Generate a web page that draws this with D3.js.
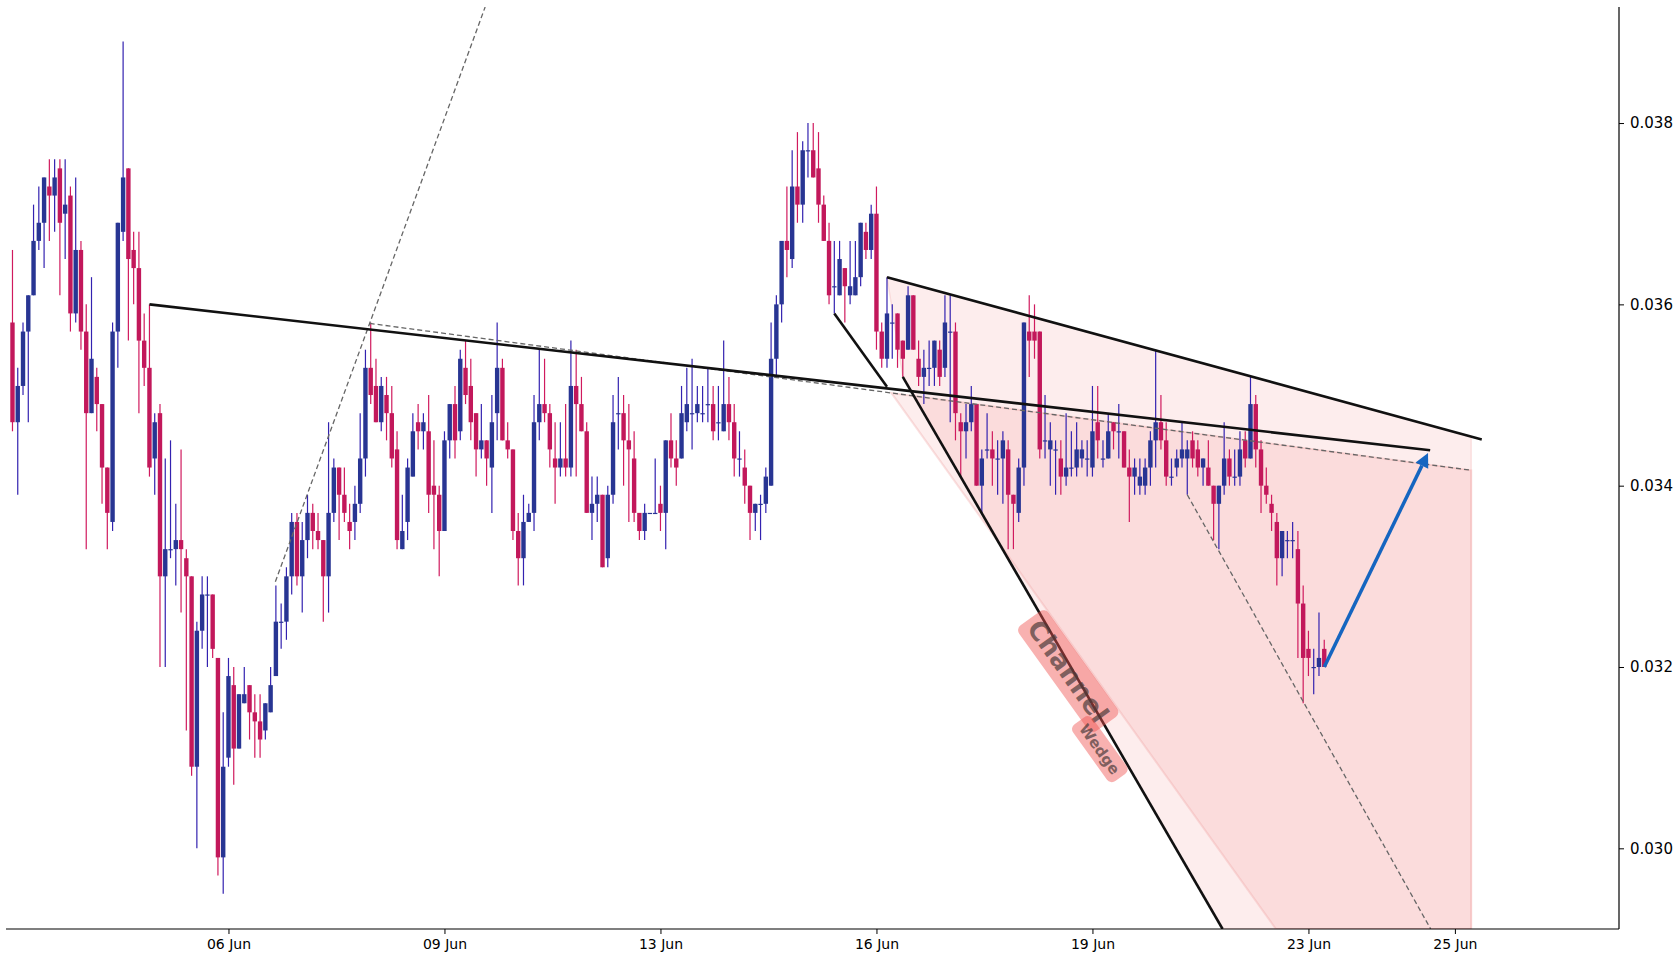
<!DOCTYPE html>
<html>
<head>
<meta charset="utf-8">
<script src="https://cdn.jsdelivr.net/npm/d3@7"></script>
<style>
  body { margin: 0; background: #fff; }
  svg text { font-family: "DejaVu Sans", sans-serif; }
</style>
</head>
<body>
<div id="chart"></div>
<script>
// 2h bars, [open, high, low, close]; x position = bar index
const candles = [
  [0.0358,0.0366,0.0346,0.0347],[0.0347,0.0353,0.0339,0.0351],[0.0351,0.0358,0.0350,0.0357],[0.0357,0.0361,0.0347,0.0361],
  [0.0361,0.0371,0.0361,0.0367],[0.0367,0.0373,0.0366,0.0369],[0.0369,0.0374,0.0364,0.0374],[0.0373,0.0376,0.0367,0.0372],
  [0.0372,0.0376,0.0368,0.0374],[0.0375,0.0376,0.0361,0.0369],[0.0370,0.0376,0.0365,0.0371],[0.0372,0.0373,0.0357,0.0359],
  [0.0359,0.0374,0.0358,0.0366],[0.0366,0.0367,0.0355,0.0357],[0.0357,0.0360,0.0333,0.0348],[0.0348,0.0363,0.0348,0.0354],
  [0.0352,0.0353,0.0346,0.0349],[0.0349,0.0349,0.0338,0.0342],[0.0342,0.0342,0.0333,0.0337],[0.0336,0.0358,0.0335,0.0357],
  [0.0357,0.0369,0.0353,0.0369],[0.0368,0.0389,0.0367,0.0374],[0.0375,0.0375,0.0356,0.0365],[0.0366,0.0368,0.0360,0.0364],
  [0.0364,0.0368,0.0348,0.0356],[0.0356,0.0359,0.0351,0.0353],[0.0353,0.0360,0.0341,0.0342],[0.0343,0.0348,0.0339,0.0347],
  [0.0348,0.0349,0.0320,0.0330],[0.0330,0.0343,0.0320,0.0333],[0.0333,0.0345,0.0332,0.0333],[0.0333,0.0338,0.0329,0.0334],
  [0.0334,0.0344,0.0326,0.0333],[0.0332,0.0333,0.0313,0.0330],[0.0330,0.0330,0.0308,0.0309],[0.0309,0.0325,0.0300,0.0324],
  [0.0324,0.0330,0.0322,0.0328],[0.0328,0.0330,0.0320,0.0328],[0.0328,0.0328,0.0321,0.0322],[0.0321,0.0321,0.0297,0.0299],
  [0.0299,0.0315,0.0295,0.0309],[0.0310,0.0321,0.0309,0.0319],[0.0318,0.0320,0.0307,0.0311],[0.0311,0.0317,0.0311,0.0317],
  [0.0316,0.0320,0.0316,0.0317],[0.0318,0.0318,0.0312,0.0315],[0.0315,0.0317,0.0310,0.0314],[0.0314,0.0317,0.0310,0.0312],
  [0.0313,0.0316,0.0312,0.0316],[0.0315,0.0320,0.0315,0.0318],[0.0319,0.0329,0.0319,0.0325],[0.0325,0.0327,0.0322,0.0325],
  [0.0325,0.0331,0.0323,0.0330],[0.0330,0.0337,0.0328,0.0336],[0.0336,0.0337,0.0329,0.0330],[0.0330,0.0336,0.0326,0.0334],
  [0.0334,0.0339,0.0332,0.0337],[0.0337,0.0338,0.0333,0.0335],[0.0335,0.0337,0.0333,0.0334],[0.0334,0.0334,0.0325,0.0330],
  [0.0330,0.0347,0.0326,0.0337],[0.0337,0.0343,0.0336,0.0342],[0.0342,0.0342,0.0334,0.0339],[0.0339,0.0342,0.0336,0.0337],
  [0.0336,0.0338,0.0333,0.0335],[0.0336,0.0340,0.0334,0.0338],[0.0338,0.0348,0.0337,0.0343],[0.0343,0.0355,0.0341,0.0353],
  [0.0353,0.0358,0.0349,0.0350],[0.0351,0.0354,0.0347,0.0347],[0.0347,0.0352,0.0346,0.0351],[0.0350,0.0352,0.0345,0.0348],
  [0.0348,0.0351,0.0342,0.0343],[0.0344,0.0346,0.0333,0.0334],[0.0333,0.0339,0.0333,0.0335],[0.0336,0.0343,0.0334,0.0342],
  [0.0341,0.0348,0.0341,0.0346],[0.0347,0.0349,0.0344,0.0346],[0.0346,0.0348,0.0344,0.0347],[0.0346,0.0350,0.0337,0.0339],
  [0.0340,0.0345,0.0333,0.0339],[0.0339,0.0340,0.0330,0.0335],[0.0335,0.0346,0.0335,0.0345],[0.0345,0.0349,0.0343,0.0349],
  [0.0349,0.0351,0.0343,0.0345],[0.0346,0.0355,0.0345,0.0354],[0.0353,0.0356,0.0349,0.0350],[0.0351,0.0354,0.0345,0.0347],
  [0.0348,0.0348,0.0341,0.0344],[0.0344,0.0349,0.0343,0.0345],[0.0345,0.0345,0.0340,0.0343],[0.0342,0.0350,0.0337,0.0347],
  [0.0348,0.0358,0.0345,0.0353],[0.0353,0.0354,0.0345,0.0345],[0.0345,0.0347,0.0343,0.0344],[0.0344,0.0344,0.0334,0.0335],
  [0.0335,0.0337,0.0329,0.0332],[0.0332,0.0339,0.0329,0.0336],[0.0336,0.0338,0.0336,0.0337],[0.0337,0.0350,0.0335,0.0347],
  [0.0347,0.0355,0.0345,0.0349],[0.0349,0.0354,0.0347,0.0348],[0.0348,0.0349,0.0342,0.0344],[0.0343,0.0347,0.0338,0.0342],
  [0.0342,0.0347,0.0341,0.0343],[0.0343,0.0349,0.0341,0.0342],[0.0342,0.0356,0.0341,0.0351],[0.0351,0.0355,0.0341,0.0349],
  [0.0349,0.0352,0.0346,0.0346],[0.0346,0.0347,0.0337,0.0337],[0.0337,0.0341,0.0334,0.0338],[0.0338,0.0341,0.0336,0.0339],
  [0.0339,0.0339,0.0331,0.0331],[0.0332,0.0340,0.0331,0.0339],[0.0339,0.0350,0.0338,0.0347],[0.0348,0.0352,0.0344,0.0348],
  [0.0348,0.0350,0.0340,0.0345],[0.0345,0.0349,0.0336,0.0344],[0.0343,0.0346,0.0336,0.0337],[0.0337,0.0337,0.0334,0.0335],
  [0.0335,0.0338,0.0334,0.0337],[0.0337,0.0337,0.0337,0.0337],[0.0337,0.0343,0.0337,0.0337],[0.0338,0.0340,0.0335,0.0337],
  [0.0337,0.0345,0.0333,0.0345],[0.0345,0.0348,0.0342,0.0343],[0.0343,0.0345,0.0340,0.0342],[0.0343,0.0351,0.0343,0.0348],
  [0.0347,0.0353,0.0346,0.0349],[0.0348,0.0354,0.0344,0.0348],[0.0348,0.0351,0.0347,0.0349],[0.0348,0.0351,0.0347,0.0348],
  [0.0349,0.0353,0.0347,0.0349],[0.0349,0.0351,0.0345,0.0346],[0.0347,0.0351,0.0345,0.0347],[0.0346,0.0356,0.0346,0.0349],
  [0.0349,0.0352,0.0345,0.0347],[0.0347,0.0349,0.0341,0.0343],[0.0343,0.0346,0.0341,0.0343],[0.0342,0.0344,0.0338,0.0340],
  [0.0340,0.0340,0.0334,0.0337],[0.0337,0.0338,0.0335,0.0338],[0.0338,0.0339,0.0334,0.0338],[0.0338,0.0342,0.0337,0.0341],
  [0.0340,0.0358,0.0340,0.0354],[0.0354,0.0361,0.0352,0.0360],[0.0360,0.0367,0.0358,0.0367],[0.0367,0.0373,0.0363,0.0366],
  [0.0365,0.0377,0.0364,0.0373],[0.0373,0.0379,0.0369,0.0371],[0.0371,0.0378,0.0369,0.0377],[0.0377,0.0380,0.0374,0.0377],
  [0.0377,0.0380,0.0374,0.0374],[0.0375,0.0379,0.0369,0.0371],[0.0371,0.0372,0.0367,0.0367],[0.0367,0.0369,0.0360,0.0361],
  [0.0362,0.0367,0.0359,0.0362],[0.0361,0.0367,0.0361,0.0365],[0.0364,0.0364,0.0358,0.0362],[0.0361,0.0367,0.0360,0.0362],
  [0.0361,0.0367,0.0361,0.0363],[0.0363,0.0369,0.0362,0.0369],[0.0368,0.0369,0.0365,0.0366],[0.0366,0.0371,0.0365,0.0370],
  [0.0370,0.0373,0.0355,0.0357],[0.0357,0.0358,0.0353,0.0354],[0.0354,0.0363,0.0353,0.0359],[0.0358,0.0360,0.0354,0.0358],
  [0.0359,0.0359,0.0353,0.0355],[0.0356,0.0356,0.0352,0.0354],[0.0355,0.0362,0.0355,0.0361],[0.0361,0.0361,0.0355,0.0355],
  [0.0354,0.0356,0.0351,0.0352],[0.0352,0.0355,0.0349,0.0353],[0.0353,0.0356,0.0351,0.0353],[0.0353,0.0356,0.0351,0.0356],
  [0.0355,0.0356,0.0351,0.0352],[0.0353,0.0361,0.0352,0.0358],[0.0357,0.0361,0.0347,0.0357],[0.0357,0.0358,0.0345,0.0348],
  [0.0347,0.0348,0.0341,0.0346],[0.0346,0.0349,0.0343,0.0347],[0.0347,0.0351,0.0346,0.0349],[0.0349,0.0349,0.0340,0.0340],
  [0.0340,0.0344,0.0337,0.0343],[0.0344,0.0348,0.0343,0.0344],[0.0344,0.0346,0.0340,0.0343],[0.0343,0.0345,0.0339,0.0343],
  [0.0343,0.0346,0.0338,0.0345],[0.0344,0.0345,0.0333,0.0339],[0.0339,0.0339,0.0333,0.0338],[0.0337,0.0343,0.0336,0.0342],
  [0.0342,0.0358,0.0340,0.0358],[0.0357,0.0361,0.0352,0.0356],[0.0357,0.0360,0.0354,0.0356],[0.0357,0.0357,0.0343,0.0344],
  [0.0345,0.0350,0.0343,0.0345],[0.0344,0.0347,0.0340,0.0345],[0.0344,0.0345,0.0339,0.0344],[0.0343,0.0345,0.0339,0.0341],
  [0.0341,0.0348,0.0340,0.0342],[0.0342,0.0346,0.0341,0.0342],[0.0342,0.0347,0.0341,0.0344],[0.0343,0.0345,0.0342,0.0344],
  [0.0343,0.0345,0.0341,0.0343],[0.0342,0.0351,0.0341,0.0346],[0.0347,0.0351,0.0343,0.0345],[0.0343,0.0345,0.0342,0.0343],
  [0.0343,0.0348,0.0343,0.0346],[0.0347,0.0347,0.0344,0.0346],[0.0346,0.0349,0.0343,0.0346],[0.0346,0.0346,0.0342,0.0342],
  [0.0342,0.0344,0.0336,0.0341],[0.0341,0.0343,0.0339,0.0342],[0.0340,0.0343,0.0339,0.0341],[0.0340,0.0343,0.0339,0.0342],
  [0.0342,0.0346,0.0340,0.0345],[0.0345,0.0355,0.0342,0.0347],[0.0347,0.0350,0.0344,0.0345],[0.0345,0.0347,0.0340,0.0341],
  [0.0341,0.0343,0.0340,0.0341],[0.0342,0.0344,0.0341,0.0343],[0.0343,0.0347,0.0342,0.0344],[0.0343,0.0345,0.0339,0.0344],
  [0.0345,0.0346,0.0342,0.0343],[0.0344,0.0345,0.0341,0.0342],[0.0342,0.0343,0.0340,0.0343],[0.0342,0.0345,0.0340,0.0340],
  [0.0340,0.0340,0.0334,0.0338],[0.0338,0.0340,0.0333,0.0340],[0.0340,0.0347,0.0339,0.0343],[0.0343,0.0344,0.0340,0.0341],
  [0.0341,0.0344,0.0340,0.0341],[0.0341,0.0346,0.0340,0.0344],[0.0345,0.0346,0.0342,0.0343],[0.0343,0.0352,0.0343,0.0349],
  [0.0349,0.0350,0.0342,0.0344],[0.0344,0.0345,0.0337,0.0340],[0.0340,0.0342,0.0338,0.0339],[0.0338,0.0339,0.0335,0.0337],
  [0.0336,0.0337,0.0329,0.0332],[0.0332,0.0335,0.0330,0.0335],[0.0334,0.0335,0.0332,0.0334],[0.0334,0.0336,0.0332,0.0334],
  [0.0333,0.0335,0.0321,0.0327],[0.0327,0.0329,0.0316,0.0321],[0.0322,0.0324,0.0319,0.0321],[0.0320,0.0322,0.0317,0.0320],
  [0.0320,0.0326,0.0319,0.0321],[0.0322,0.0323,0.0320,0.0320]
]

const tickIdx = [41, 82, 123, 164, 205, 246, 273.8]
const tickLabels = ["06 Jun", "09 Jun", "13 Jun", "16 Jun", "19 Jun", "23 Jun", "25 Jun"]
const priceTicks = [0.030, 0.032, 0.034, 0.036, 0.038]

// drawing anchors: [bar index, price]
const trendSolid = [[26, 0.0360], [269.1, 0.03439]]
const trendDashed = [[67.8, 0.03579], [276.9, 0.03417]]
const rayDashed = [[49.9, 0.03294], [67.8, 0.03579]]
const wedgeTop = [[166, 0.0363], [278.9, 0.03451]]
const wedgeInner = [[156, 0.0359], [166, 0.03509]]
const wedgeOuter = [[169, 0.0352], [229.7, 0.02911]]
const channelDashed = [[223, 0.0339], [269.2, 0.02911]]
const arrowPts = [[249, 0.0320], [268.7, 0.03436]]
const zoneEnd = 276.9
const labelChannel = [200.4, 0.031955]
const labelWedge = [206.4, 0.031094]

let W = 1680, H = 960
let pLeft = 6, pRight = 1619, pTop = 7, pBottom = 929

let svg = d3.select("#chart").append("svg")
    .attr("width", W)
    .attr("height", H)

let x = d3.scaleLinear().domain([-1.23, 304.95]).range([pLeft, pRight])
let y = d3.scaleLinear().domain([0.02911, 0.03928]).range([pBottom, pTop])
let yMin = y.domain()[0], yMax = y.domain()[1]

svg.append("clipPath").attr("id", "plot")
    .append("rect")
    .attr("x", pLeft).attr("y", pTop)
    .attr("width", pRight - pLeft).attr("height", pBottom - pTop)

// helpers for the drawing tools
function valAt(l, i) {
    return l[0][1] + (i - l[0][0]) * (l[1][1] - l[0][1]) / (l[1][0] - l[0][0])
}
function idxAt(l, v) {
    return l[0][0] + (v - l[0][1]) * (l[1][0] - l[0][0]) / (l[1][1] - l[0][1])
}
function cross(a, b) {
    let sa = (a[1][1] - a[0][1]) / (a[1][0] - a[0][0])
    let sb = (b[1][1] - b[0][1]) / (b[1][0] - b[0][0])
    let i = (b[0][1] - a[0][1] + sa * a[0][0] - sb * b[0][0]) / (sa - sb)
    return [i, valAt(a, i)]
}

let line = d3.line().x(d => x(d[0])).y(d => y(d[1]))
let g = svg.append("g").attr("clip-path", "url(#plot)")

// zones
let lightZone = [wedgeTop[0], [zoneEnd, valAt(wedgeTop, zoneEnd)], [zoneEnd, yMin],
    [idxAt(wedgeOuter, yMin), yMin], wedgeOuter[0]]
let darkZone = [cross(wedgeInner, trendDashed), [zoneEnd, valAt(trendDashed, zoneEnd)], [zoneEnd, yMin],
    [idxAt(wedgeInner, yMin), yMin]]

g.append("path").datum(lightZone)
    .attr("d", d => line(d) + "Z")
    .attr("fill", "#ef5350").attr("fill-opacity", 0.1)
    .attr("stroke", "#ef9a9a").attr("stroke-opacity", 0.25).attr("stroke-width", 1.5)
g.append("path").datum(darkZone)
    .attr("d", d => line(d) + "Z")
    .attr("fill", "#ef5350").attr("fill-opacity", 0.1)
    .attr("stroke", "#ef9a9a").attr("stroke-opacity", 0.3).attr("stroke-width", 2)

// candles
let bars = g.append("g").selectAll("g")
    .data(candles)
    .enter()
    .append("g")

bars.append("line")
    .attr("x1", (d, i) => x(i)).attr("x2", (d, i) => x(i))
    .attr("y1", d => y(d[1])).attr("y2", d => y(d[2]))
    .attr("stroke", d => d[3] >= d[0] ? "#3322b0" : "#d01a5e")
    .attr("stroke-width", 1.2)

bars.append("rect")
    .attr("x", (d, i) => x(i) - 2.2)
    .attr("width", 4.4)
    .attr("y", d => y(Math.max(d[0], d[3])))
    .attr("height", d => Math.max(1.2, Math.abs(y(d[0]) - y(d[3]))))
    .attr("fill", d => d[3] >= d[0] ? "#283593" : "#c2185b")

// trend lines
let dashed = { "stroke": "#666", "stroke-width": 1.3, "stroke-dasharray": "5,3", "fill": "none" }
let solid = { "stroke": "#111", "stroke-width": 2.6, "fill": "none" }
function drawLine(pts, style) {
    let p = g.append("path").attr("d", line(pts))
    for (let k in style) p.attr(k, style[k])
}

drawLine([rayDashed[0], [idxAt(rayDashed, yMax), yMax]], dashed)
drawLine(trendDashed, dashed)
drawLine([channelDashed[0], [idxAt(channelDashed, yMin), yMin]], dashed)
drawLine(trendSolid, solid)
drawLine(wedgeTop, solid)
drawLine(wedgeInner, solid)
drawLine([wedgeOuter[0], [idxAt(wedgeOuter, yMin), yMin]], solid)

// labels follow the inner wedge edge
let ang = Math.atan2(y(wedgeInner[1][1]) - y(wedgeInner[0][1]), x(wedgeInner[1][0]) - x(wedgeInner[0][0])) * 180 / Math.PI

function tag(pos, txt, w, h, size) {
    let t = svg.append("g")
        .attr("transform", "translate(" + x(pos[0]) + "," + y(pos[1]) + ")rotate(" + ang + ")")
    t.append("rect")
        .attr("x", -w / 2).attr("y", -h / 2)
        .attr("width", w).attr("height", h)
        .attr("rx", 6)
        .attr("fill", "#ef5350").attr("fill-opacity", 0.45)
    t.append("text")
        .attr("text-anchor", "middle")
        .attr("dy", "0.36em")
        .attr("font-weight", "bold")
        .attr("font-size", size)
        .attr("fill", "#4a3a3a").attr("fill-opacity", 0.7)
        .text(txt)
}
tag(labelChannel, "Channel", 130, 36, 26)
tag(labelWedge, "Wedge", 70, 24, 15)

// projection arrow
let ax0 = x(arrowPts[0][0]), ay0 = y(arrowPts[0][1])
let ax1 = x(arrowPts[1][0]), ay1 = y(arrowPts[1][1])
let a = Math.atan2(ay1 - ay0, ax1 - ax0)
let headLen = 14, headW = 7
let bx = ax1 - headLen * Math.cos(a), by = ay1 - headLen * Math.sin(a)
svg.append("line")
    .attr("x1", ax0).attr("y1", ay0).attr("x2", bx).attr("y2", by)
    .attr("stroke", "#1565c0").attr("stroke-width", 3.5)
svg.append("path")
    .attr("d", "M" + ax1 + "," + ay1 +
        "L" + (bx + headW * Math.sin(a)) + "," + (by - headW * Math.cos(a)) +
        "L" + (bx - headW * Math.sin(a)) + "," + (by + headW * Math.cos(a)) + "Z")
    .attr("fill", "#1565c0")

// axes: only bottom and right spines
let xAx = svg.append("g")
    .attr("transform", "translate(0," + pBottom + ")")
    .call(d3.axisBottom(x).tickValues(tickIdx).tickFormat((d, i) => tickLabels[i]).tickSizeOuter(0).tickSize(5).tickPadding(5))
let yAx = svg.append("g")
    .attr("transform", "translate(" + pRight + ",0)")
    .call(d3.axisRight(y).tickValues(priceTicks).tickFormat(d3.format(".3f")).tickSizeOuter(0).tickSize(5).tickPadding(6))

xAx.select(".domain").attr("d", "M" + pLeft + ",0H" + pRight).attr("stroke-width", 1.2)
yAx.select(".domain").attr("d", "M0," + pTop + "V" + pBottom).attr("stroke-width", 1.2)
svg.selectAll(".tick text").attr("font-family", "DejaVu Sans").attr("fill", "#000")
xAx.selectAll(".tick text").attr("font-size", 14)
yAx.selectAll(".tick text").attr("font-size", 15)
svg.selectAll(".tick line").attr("stroke", "#000")
</script>
</body>
</html>
